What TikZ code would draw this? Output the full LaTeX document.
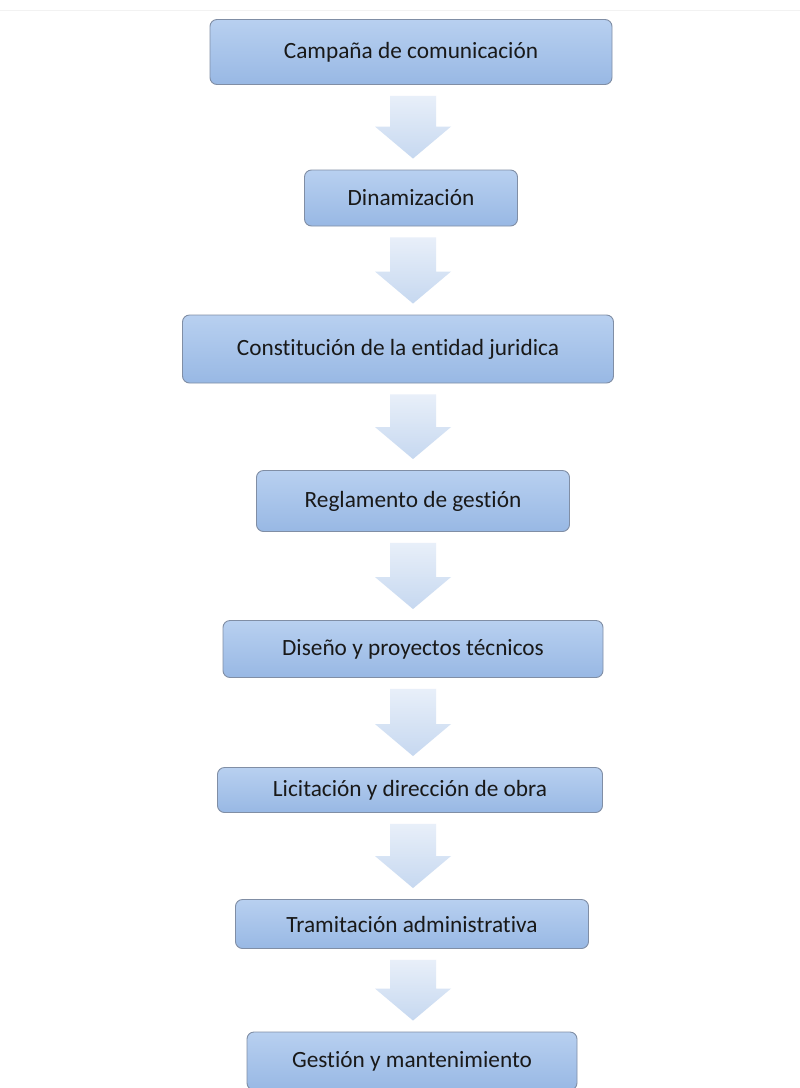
\documentclass[tikz,border=0pt]{standalone}
\usepackage{fontspec}
\setmainfont[Ligatures=NoCommon]{Carlito}
\usetikzlibrary{calc}

\definecolor{cajaarriba}{RGB}{184,208,240}
\definecolor{cajaabajo}{RGB}{152,184,228}
\definecolor{cajaborde}{RGB}{128,142,165}
\definecolor{flechaarriba}{RGB}{232,239,249}
\definecolor{flechaabajo}{RGB}{198,216,240}

\tikzset{
  paso/.style={rectangle, rounded corners=7pt, draw=cajaborde, line width=0.9pt,
    top color=cajaarriba, bottom color=cajaabajo, inner sep=0pt,
    font=\fontsize{23.3}{27}\selectfont, text=black!90},
  flecha/.style={top color=flechaarriba, bottom color=flechaabajo}
}

% block arrow from box #1 to box #2 along the axis
\newcommand{\flecha}[2]{%
  \shade[flecha] let \p1=($(#1.south -| eje)+(0,11)$), \p2=($(#2.north -| eje)+(0,-11)$) in
    (\x1-23pt,\y1) -- (\x1+23pt,\y1) -- (\x1+23pt,\y2+32pt) -- (\x1+38pt,\y2+32pt)
    -- (\x1,\y2) -- (\x1-38pt,\y2+32pt) -- (\x1-23pt,\y2+32pt) -- cycle;}

\begin{document}
\begin{tikzpicture}[x=1pt, y=-1pt]
  \useasboundingbox (0,0) rectangle (800,1088);
  \fill[white] (0,0) rectangle (800,1088);
  \draw[black!5, line width=1pt] (0,10) -- (800,10);

  % Coordinates
  \coordinate (eje) at (413,0);

  % Boxes
  \node[paso, minimum width=402pt, minimum height=65pt] (campana) at (411,52) {Campaña de comunicación};
  \node[paso, minimum width=213pt, minimum height=56pt] (dinamiza) at (411,198) {Dinamización};
  \node[paso, minimum width=431pt, minimum height=68pt] (constitu) at (398,349) {Constitución de la entidad juridica};
  \node[paso, minimum width=313pt, minimum height=61pt] (reglamento) at (413,501) {Reglamento de gestión};
  \node[paso, minimum width=380pt, minimum height=57pt] (diseno) at (413,649) {Diseño y proyectos técnicos};
  \node[paso, minimum width=385pt, minimum height=45pt] (licita) at (410,790) {Licitación y dirección de obra};
  \node[paso, minimum width=353pt, minimum height=49pt] (tramita) at (412,924) {Tramitación administrativa};
  \node[paso, minimum width=330pt, minimum height=58pt] (gestion) at (412,1061) {Gestión y mantenimiento};

  % Arrows
  \flecha{campana}{dinamiza}
  \flecha{dinamiza}{constitu}
  \flecha{constitu}{reglamento}
  \flecha{reglamento}{diseno}
  \flecha{diseno}{licita}
  \flecha{licita}{tramita}
  \flecha{tramita}{gestion}
\end{tikzpicture}
\end{document}
